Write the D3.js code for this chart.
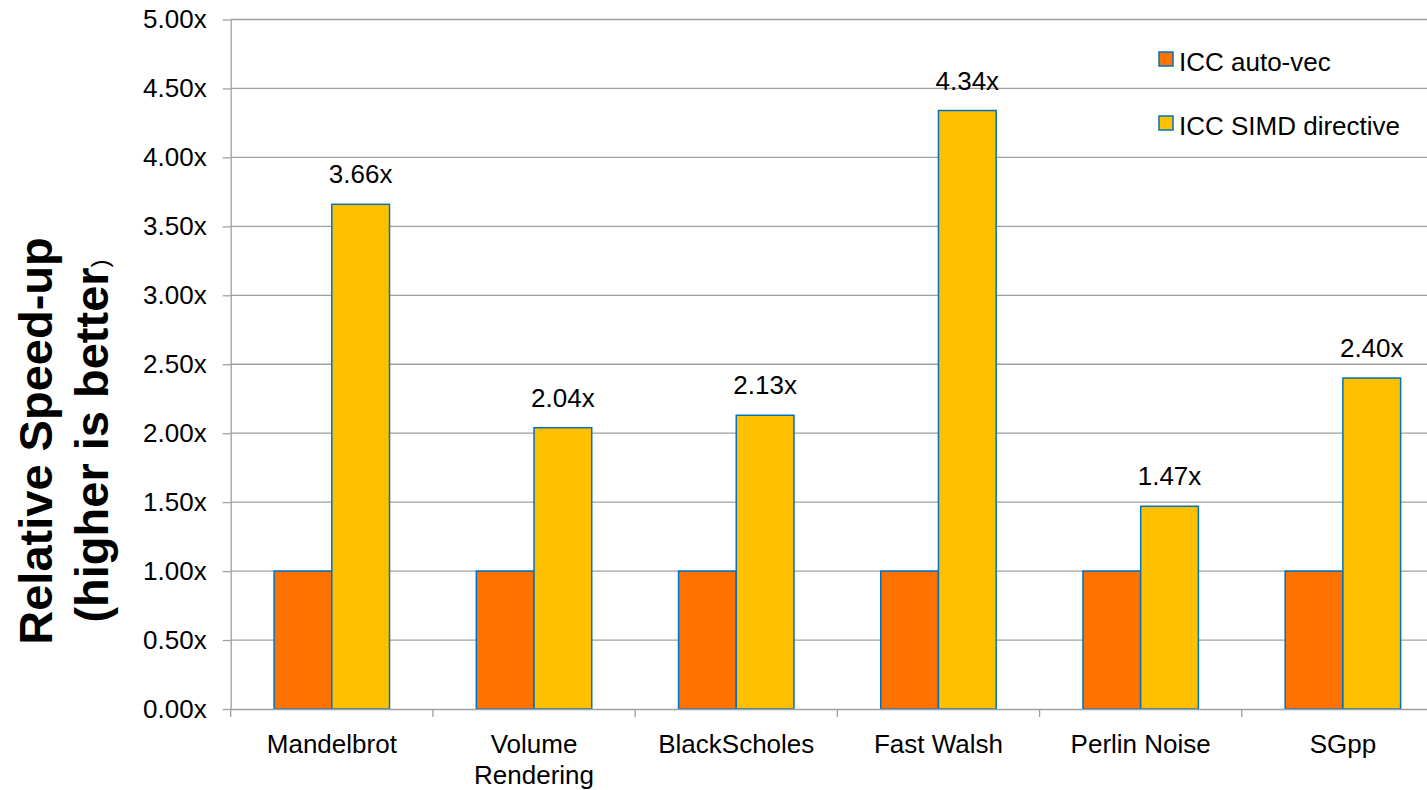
<!DOCTYPE html>
<html>
<head>
<meta charset="utf-8">
<script src="https://cdn.jsdelivr.net/npm/d3@7"></script>
<style>
  body { margin: 0; background: #fff; }
  svg { display: block; font-family: "Liberation Sans", Arial, sans-serif; }
  .axis path, .axis line { stroke: #A0A0A0; stroke-width: 1.3; }
  .axis text { font-size: 26px; fill: #000; }
</style>
</head>
<body>
<svg id="chart" width="1427" height="790"></svg>
<script>
const categories = ["Mandelbrot", "Volume\nRendering", "BlackScholes", "Fast Walsh", "Perlin Noise", "SGpp"];
const seriesNames = ["ICC auto-vec", "ICC SIMD directive"];
const autoVec = [1.00, 1.00, 1.00, 1.00, 1.00, 1.00];
const simdDirective = [3.66, 2.04, 2.13, 4.34, 1.47, 2.40];
const yTicks = [0, 0.5, 1, 1.5, 2, 2.5, 3, 3.5, 4, 4.5, 5];
const colors = ["#FF7200", "#FFC000"];

const svg = d3.select("#chart");

// plot area (right side runs past the window like the original)
const plotLeft = 230.7, plotRight = 1444, plotTop = 19.5, plotBottom = 709;

const x0 = d3.scaleBand()
  .domain(categories)
  .range([plotLeft, plotRight])
  .padding(0);

const x1 = d3.scaleBand()
  .domain(seriesNames)
  .range([0, x0.bandwidth()])
  .paddingInner(0)
  .paddingOuter(0.752);

const y = d3.scaleLinear()
  .domain([0, 5])
  .range([plotBottom, plotTop]);

// gridlines
svg.append("g")
  .selectAll("line")
  .data(yTicks.filter(d => d > 0))
  .enter().append("line")
    .attr("x1", plotLeft)
    .attr("x2", 1427)
    .attr("y1", d => y(d))
    .attr("y2", d => y(d))
    .attr("stroke", "#A0A0A0")
    .attr("stroke-width", 1.3);

// bars
const rows = categories.map((c, i) => ({cat: c, values: [autoVec[i], simdDirective[i]]}));

const groups = svg.append("g")
  .selectAll("g")
  .data(rows)
  .enter().append("g")
    .attr("transform", d => "translate(" + x0(d.cat) + ",0)");

groups.selectAll("rect")
  .data(d => d.values.map((v, j) => ({name: seriesNames[j], value: v, idx: j})))
  .enter().append("rect")
    .attr("x", d => x1(d.name))
    .attr("y", d => y(d.value))
    .attr("width", x1.bandwidth())
    .attr("height", d => y(0) - y(d.value))
    .attr("fill", d => colors[d.idx])
    .attr("stroke", "#0070C0")
    .attr("stroke-width", 1.5);

// value labels on the SIMD bars
groups.append("text")
  .attr("x", x1(seriesNames[1]) + x1.bandwidth() / 2)
  .attr("y", d => y(d.values[1]) - 21)
  .attr("text-anchor", "middle")
  .style("font-size", "26px")
  .text(d => d.values[1].toFixed(2) + "x");

// y axis
svg.append("g")
  .attr("class", "axis y")
  .attr("transform", "translate(" + plotLeft + ",0)")
  .call(d3.axisLeft(y)
    .tickValues(yTicks)
    .tickFormat(d => d.toFixed(2) + "x")
    .tickSize(8)
    .tickSizeOuter(0)
    .tickPadding(16));

// x axis
const xAxis = svg.append("g")
  .attr("class", "axis x")
  .attr("transform", "translate(0," + plotBottom + ")")
  .call(d3.axisBottom(x0).tickSize(0).tickSizeOuter(0).tickPadding(25.5));

xAxis.selectAll(".tick text").each(function(d) {
  const t = d3.select(this);
  const lines = d.split("\n");
  t.text(null);
  lines.forEach((l, i) => {
    t.append("tspan")
      .attr("x", 0)
      .attr("dy", i === 0 ? "0.71em" : "1.2em")
      .text(l);
  });
});

// category separator ticks
xAxis.selectAll(".sep")
  .data(categories)
  .enter().append("line")
    .attr("class", "sep")
    .attr("x1", d => x0(d))
    .attr("x2", d => x0(d))
    .attr("y1", 0)
    .attr("y2", 8);

// y axis title
const title = svg.append("text")
  .attr("transform", "translate(52,441) rotate(-90)")
  .attr("text-anchor", "middle")
  .style("font-size", "47px")
  .style("font-weight", "bold");

title.append("tspan")
  .attr("x", 0)
  .attr("y", 0)
  .text("Relative Speed-up");

const t2 = title.append("tspan")
  .attr("x", 0)
  .attr("y", 56);
t2.append("tspan").text("(higher is better");
t2.append("tspan")
  .style("font-size", "24px")
  .style("font-weight", "normal")
  .text(")");

// legend
const legend = svg.append("g")
  .attr("transform", "translate(1159,52)");

seriesNames.forEach((name, i) => {
  const item = legend.append("g")
    .attr("transform", "translate(0," + i * 64 + ")");
  item.append("rect")
    .attr("width", 14)
    .attr("height", 14)
    .attr("fill", colors[i])
    .attr("stroke", "#0070C0")
    .attr("stroke-width", 1.5);
  item.append("text")
    .attr("x", 20)
    .attr("y", 19)
    .style("font-size", "26px")
    .text(name);
});
</script>
</body>
</html>
